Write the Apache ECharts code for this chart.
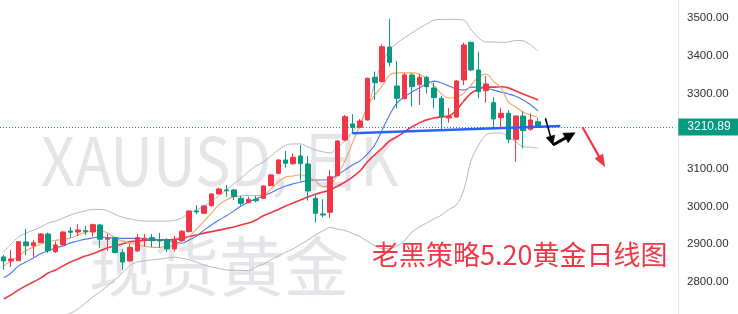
<!DOCTYPE html>
<html><head><meta charset="utf-8">
<script src="https://cdn.jsdelivr.net/npm/echarts@6/dist/echarts.min.js"></script>
<style>html,body{margin:0;padding:0;background:#fff}#c{width:738px;height:314px}</style>
</head><body><div id="c"></div>
<script>
// ---- data ----
const dates = ['02-07','02-10','02-11','02-12','02-13','02-14','02-17','02-18','02-19','02-20','02-21',
'02-24','02-25','02-26','02-27','02-28','03-03','03-04','03-05','03-06','03-07','03-10','03-11','03-12','03-13','03-14',
'03-17','03-18','03-19','03-20','03-21','03-24','03-25','03-26','03-27','03-28','03-31','04-01','04-02','04-03','04-04',
'04-07','04-08','04-09','04-10','04-11','04-14','04-15','04-16','04-17','04-18','04-21','04-22','04-23','04-24','04-25',
'04-28','04-29','04-30','05-01','05-02','05-05','05-06','05-07','05-08','05-09','05-12','05-13','05-14','05-15','05-16',
'05-19','05-20'];
const opens = [2865.6,2855.0,2855.8,2905.5,2895.6,2903.6,2926.7,2879.7,2897.5,2934.7,2932.0,2935.5,2932.0,2950.7,2912.7,2916.9,2877.1,2855.0,2881.6,2910.8,2916.9,2910.8,2910.8,2886.9,2908.9,2932.9,2987.9,2981.8,3002.0,3033.1,3043.7,3043.7,3021.6,3009.9,3018.9,3021.6,3055.1,3088.0,3123.4,3113.6,3134.0,3112.8,3021.6,2979.9,2984.4,3081.7,3176.6,3219.1,3210.3,3229.7,3343.2,3331.5,3423.7,3320.1,3286.3,3349.3,3323.5,3343.2,3314.7,3287.4,3235.0,3237.7,3336.0,3436.2,3362.6,3307.6,3275.7,3235.8,3247.5,3178.4,3240.3,3205.0,3225.2];
const closes = [2855.0,2860.3,2906.3,2895.6,2903.6,2926.7,2882.4,2897.5,2932.0,2931.2,2937.4,2932.9,2951.5,2912.7,2915.3,2877.1,2852.3,2891.4,2916.9,2915.3,2908.9,2908.1,2886.9,2910.8,2933.9,2987.9,2985.2,3001.2,3033.1,3046.3,3041.8,3025.9,3008.3,3018.9,3015.2,3054.3,3083.5,3123.4,3114.6,3130.6,3113.6,3041.0,2981.8,2977.2,3079.0,3173.9,3238.5,3210.3,3227.0,3340.5,3328.8,3424.5,3383.0,3287.4,3349.3,3318.2,3343.2,3318.2,3289.0,3238.5,3239.0,3333.3,3429.0,3362.6,3304.9,3325.4,3232.4,3247.5,3178.4,3240.3,3201.3,3229.7,3210.89];
const lows = [2831.1,2839.1,2855.0,2870.9,2865.6,2902.8,2876.2,2876.2,2896.7,2916.9,2921.4,2924.1,2919.6,2889.5,2881.6,2875.4,2831.1,2853.0,2879.7,2893.0,2892.2,2889.5,2878.1,2879.7,2906.3,2931.0,2979.1,2981.0,2999.3,3032.3,3025.9,3017.1,3002.0,3008.3,3011.0,3019.7,3054.3,3085.4,3102.9,3110.1,3068.4,3015.2,2956.8,2971.1,2968.5,3080.0,3173.9,3192.5,3207.7,3228.0,3282.9,3329.9,3371.4,3260.8,3285.0,3265.0,3269.6,3300.6,3260.8,3203.1,3222.5,3236.0,3322.7,3359.9,3287.4,3275.7,3207.7,3207.7,3167.8,3118.9,3154.5,3201.3,3210.3];
const highs = [2870.9,2884.2,2908.1,2940.0,2910.8,2929.4,2930.2,2906.3,2934.7,2945.3,2953.3,2948.0,2954.1,2953.3,2926.7,2919.6,2886.9,2900.2,2926.7,2926.7,2926.7,2929.4,2915.3,2921.4,2937.4,2989.0,3003.0,3003.8,3034.9,3049.8,3057.0,3046.3,3027.7,3025.9,3027.7,3056.1,3086.2,3125.3,3147.3,3141.2,3163.3,3134.0,3033.1,3018.9,3096.8,3176.6,3243.0,3244.9,3231.6,3342.0,3358.1,3430.9,3498.1,3386.5,3353.8,3353.8,3352.0,3346.6,3328.8,3293.5,3261.6,3336.0,3435.1,3437.8,3411.2,3346.6,3290.0,3262.4,3256.3,3241.0,3251.8,3247.5,3234.2];
const ma5 = [2842,2855,2868,2882,2892,2900,2906,2910,2912,2916,2924,2931,2936,2936,2929,2916,2908,2902,2898,2894,2891,2891,2894,2895,2908,2921,2940,2961,2982,3004,3017,3026,3028,3029,3029,3030,3046,3065,3078,3081,3084,3078,3068,3052,3057,3084,3121,3169,3216,3264,3296,3320,3349,3355,3355,3355,3352,3339,3320,3299,3288,3290,3301,3323,3344,3352,3333,3315,3278,3264,3251,3243,3237];
const ma10 = [2810,2823,2842,2852,2863,2874,2882,2890,2895,2903,2908,2913,2916,2919,2917,2916,2915,2915,2915,2914,2913,2912,2910,2905,2902,2911,2921,2937,2951,2964,2975,2988,3001,3012,3020,3028,3036,3046,3054,3060,3065,3069,3070,3070,3073,3084,3097,3110,3121,3139,3163,3203,3243,3275,3291,3304,3315,3325,3333,3328,3320,3312,3309,3317,3317,3315,3309,3304,3299,3293,3283,3270,3254];
const ma20 = [2754,2765,2778,2789,2799,2810,2823,2831,2842,2852,2860,2868,2874,2882,2890,2895,2900,2906,2908,2910,2911,2911,2911,2912,2915,2920,2924,2929,2933,2937,2941,2945,2951,2956,2964,2975,2983,2992,3001,3009,3017,3025,3032,3038,3044,3054,3065,3078,3094,3118,3137,3155,3174,3185,3198,3211,3222,3230,3235,3238,3240,3256,3280,3301,3312,3317,3317,3318,3315,3307,3299,3291,3283];
const bollUpper = [2879,2900,2919,2929,2937,2945,2956,2961,2969,2977,2983,2988,2992,2992,2988,2979,2971,2967,2963,2961,2961,2961,2961,2963,2969,2983,2991,3001,3014,3028,3044,3060,3076,3092,3108,3118,3134,3150,3163,3166,3166,3158,3150,3145,3142,3158,3174,3198,3222,3256,3328,3381,3416,3434,3448,3461,3474,3485,3495,3497,3497,3497,3495,3469,3448,3437,3437,3436,3437,3441,3440,3429,3413];
const bollLower = [2632,2645,2658,2672,2682,2693,2701,2706,2710,2716,2727,2743,2759,2773,2789,2805,2823,2843,2852,2855,2858,2860,2863,2865,2862,2858,2852,2844,2839,2835,2831,2830,2830,2829,2839,2847,2858,2868,2878,2887,2899,2911,2924,2935,2944,2939,2936,2928,2920,2907,2895,2888,2888,2895,2908,2932,2945,2956,2967,2977,2992,3004,3044,3123,3163,3190,3195,3195,3185,3171,3159,3157,3155];
const yTickValues = [2800,2900,3000,3100,3300,3400,3500];
const lastPrice = 3210.89;
const trendLine = [[46.9,3194.4],[75.0,3213.7]];          // [day index, price]
const blackArrow = [[72.66,3234.2],[74.1,3163.3],[77.2,3196.0]];
const redArrow = [[77.9,3210.3],[81.05,3105.6]];
const totalSlots = 91;

// ---- chart ----
const cats = dates.concat(new Array(totalSlots - dates.length).fill(''));
const ohlc = dates.map((d,i)=>[opens[i],closes[i],lows[i],highs[i]]);
const UP='#F23645', DOWN='#089981';
const chart = echarts.init(document.getElementById('c'), null, {renderer:'canvas'});
function lineSeries(name,data,color,width){
  return {name,type:'line',data,smooth:0.35,symbol:'none',silent:true,z:3,
    lineStyle:{color,width},emphasis:{disabled:true}};
}
chart.setOption({
  animation:false,
  backgroundColor:'#ffffff',
  grid:{left:-1.7,right:62.7,top:0,bottom:0,containLabel:false},
  xAxis:{type:'category',data:cats,boundaryGap:true,axisLine:{show:false},axisTick:{show:false},axisLabel:{show:false},splitLine:{show:false}},
  yAxis:{type:'value',position:'right',offset:2.7,min:2714,max:3548.6,scale:true,
    axisLine:{show:true,lineStyle:{color:'#dfe1e8',width:1}},axisTick:{show:false},splitLine:{show:false},
    axisLabel:{customValues:yTickValues,formatter:v=>v.toFixed(2),color:'#2a2e39',fontSize:11.5,margin:9,fontFamily:'"Liberation Sans", Arial, sans-serif'}},
  series:[
    lineSeries('BOLL上轨',bollUpper,'#b6b7c1',1),
    lineSeries('BOLL下轨',bollLower,'#b6b7c1',1),
    lineSeries('MA20',ma20,'#f23645',1.6),
    lineSeries('MA10',ma10,'#4a78f2',1.1),
    lineSeries('MA5',ma5,'#f7a464',1.1),
    {name:'XAUUSD',type:'candlestick',data:ohlc,barWidth:5,z:4,
     itemStyle:{color:UP,color0:DOWN,borderColor:UP,borderColor0:DOWN,borderWidth:1},
     markLine:{symbol:'none',silent:true,animation:false,
       lineStyle:{color:DOWN,type:[1,2],width:1},
       label:{position:'end',distance:3,formatter:()=>lastPrice.toFixed(2),color:'#fff',backgroundColor:DOWN,
         padding:[3,9,2,9],fontSize:12,fontFamily:'"Liberation Sans", Arial, sans-serif'},
       data:[{yAxis:lastPrice}]}}
  ]
});

function px(p){ return chart.convertToPixel({gridIndex:0},p); }
function arrowEls(a,b,color,w,L,W){
  const dx=b[0]-a[0], dy=b[1]-a[1], len=Math.hypot(dx,dy), ux=dx/len, uy=dy/len, nx=-uy, ny=ux;
  const base=[b[0]-ux*L,b[1]-uy*L];
  return [
    {type:'polyline',z:100,shape:{points:[a,[b[0]-ux*L*0.7,b[1]-uy*L*0.7]]},style:{stroke:color,lineWidth:w,fill:null}},
    {type:'polygon',z:100,shape:{points:[b,[base[0]+nx*W,base[1]+ny*W],[base[0]-nx*W,base[1]-ny*W]]},style:{fill:color,stroke:color,lineWidth:0.5}}
  ];
}
const tl=trendLine.map(px), ba=blackArrow.map(px), ra=redArrow.map(px);
const wm='#e5e5e9';
function txt(text,x,y,font,fill,z,sx){
  return {type:'text',z,x,y,scaleX:sx||1,style:{text,x:0,y:0,fill,font,textAlign:'left',textVerticalAlign:'middle',align:'left',verticalAlign:'middle'}};
}
const graphics=[
  txt('XAUUSD, 日K',41,161,'67px "Noto Sans CJK SC"',wm,-10,0.885),
  txt('现货黄金',89,266,'65px "Noto Sans CJK SC"',wm,-10,1),
  txt('老黑策略5.20黄金日线图',372,255,'27px "Noto Sans CJK SC"','#f23645',90,1),
  {type:'polyline',z:50,shape:{points:tl},style:{stroke:'#2962ff',lineWidth:2.5,fill:null}}
].concat(arrowEls(ba[0],ba[1],'#000',1.6,9,4.5),arrowEls(ba[1],ba[2],'#000',3,11,5.5),arrowEls(ra[0],ra[1],'#f23645',2.2,12,4.5));
chart.setOption({graphic:{elements:graphics}});
</script></body></html>
